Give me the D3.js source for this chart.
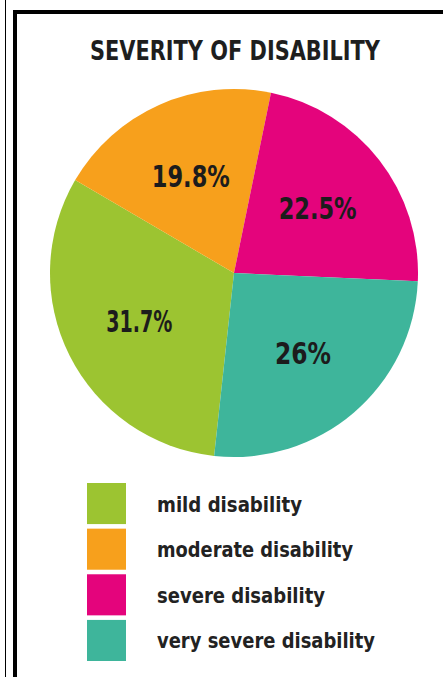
<!DOCTYPE html>
<html>
<head>
<meta charset="utf-8">
<script src="https://cdn.jsdelivr.net/npm/d3@7"></script>
<style>
html,body{margin:0;padding:0;background:#fff;}
svg{display:block;}
</style>
</head>
<body>
<svg id="chart" width="443" height="677"></svg>
<script>
const title = "SEVERITY OF DISABILITY";
const categories = ["mild disability", "moderate disability", "severe disability", "very severe disability"];
const values = [31.7, 19.8, 22.5, 26];
const valueLabels = ["31.7%", "19.8%", "22.5%", "26%"];
const colors = ["#9cc431", "#f7a01c", "#e4047c", "#3eb59b"];

const FONT = "'Liberation Sans Narrow','DejaVu Sans Condensed','Roboto Condensed',sans-serif";
const svg = d3.select("#chart");
const W = 443, H = 677;

// frame lines
svg.append("line").attr("x1", 5.5).attr("x2", 5.5).attr("y1", 0).attr("y2", H)
  .attr("stroke", "#000").attr("stroke-width", 1);
svg.append("path")
  .attr("d", `M15,${H} L15,12 L${W},12`)
  .attr("fill", "none").attr("stroke", "#000").attr("stroke-width", 4);

// title
svg.append("text")
  .attr("x", 235).attr("y", 60)
  .attr("text-anchor", "middle")
  .attr("font-family", FONT).attr("font-weight", "bold")
  .attr("font-size", 27).attr("fill", "#1e1e1e")
  .attr("textLength", 290).attr("lengthAdjust", "spacingAndGlyphs")
  .text(title);

// pie
const cx = 234, cy = 273, R = 184;
const start = 186.2 * Math.PI / 180;
const pie = d3.pie().sort(null).value(d => d).startAngle(start).endAngle(start + 2 * Math.PI);
const arcs = pie(values);
const arc = d3.arc().innerRadius(0).outerRadius(R);
const labelArc = d3.arc().innerRadius(106).outerRadius(106);

const g = svg.append("g").attr("transform", `translate(${cx},${cy})`);
g.selectAll("path.slice").data(arcs).enter().append("path")
  .attr("class", "slice")
  .attr("d", arc)
  .attr("fill", (d, i) => colors[i]);

const labelWidths = [66, 78, 78, 56];
g.selectAll("text.val").data(arcs).enter().append("text")
  .attr("class", "val")
  .attr("transform", d => `translate(${labelArc.centroid(d)})`)
  .attr("text-anchor", "middle")
  .attr("dy", "0.36em")
  .attr("font-family", FONT).attr("font-weight", "bold")
  .attr("font-size", 30).attr("fill", "#1c1c1c")
  .attr("textLength", (d, i) => labelWidths[i]).attr("lengthAdjust", "spacingAndGlyphs")
  .text((d, i) => valueLabels[i]);

// legend
const legendY = d3.scaleBand().domain(categories).range([483, 661]).paddingInner(0.1).paddingOuter(0);
const legendTextW = [145, 196, 168, 218];
const lg = svg.append("g");
lg.selectAll("rect").data(categories).enter().append("rect")
  .attr("x", 87).attr("y", d => legendY(d))
  .attr("width", 39).attr("height", legendY.bandwidth())
  .attr("fill", (d, i) => colors[i]);
lg.selectAll("text").data(categories).enter().append("text")
  .attr("x", 157).attr("y", d => legendY(d) + legendY.bandwidth() / 2 + 8)
  .attr("font-family", FONT).attr("font-weight", "bold")
  .attr("font-size", 22).attr("fill", "#222")
  .attr("textLength", (d, i) => legendTextW[i]).attr("lengthAdjust", "spacingAndGlyphs")
  .text(d => d);
</script>
</body>
</html>
